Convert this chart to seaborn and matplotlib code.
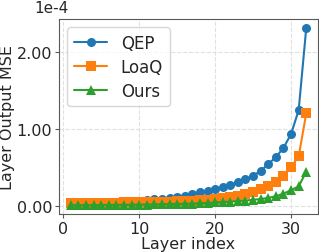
import numpy as np
import pandas as pd
import seaborn as sns
import matplotlib
matplotlib.use("Agg")
import matplotlib.pyplot as plt
from matplotlib.ticker import FormatStrFormatter

# layer-wise output MSE, in units of 1e-4
layers = list(range(1, 33))
qep = [0.03, 0.03, 0.035, 0.035, 0.04, 0.04, 0.045, 0.05, 0.055, 0.06,
       0.07, 0.08, 0.09, 0.10, 0.115, 0.13, 0.15, 0.17, 0.19, 0.21,
       0.24, 0.27, 0.30, 0.34, 0.39, 0.45, 0.54, 0.63, 0.75, 0.93,
       1.24, 2.31]
loaq = [0.03, 0.03, 0.03, 0.03, 0.035, 0.035, 0.035, 0.04, 0.04, 0.04,
        0.045, 0.045, 0.05, 0.05, 0.055, 0.06, 0.065, 0.07, 0.075, 0.085,
        0.10, 0.115, 0.13, 0.155, 0.18, 0.21, 0.25, 0.30, 0.38, 0.50,
        0.64, 1.20]
ours = [0.005, 0.005, 0.005, 0.006, 0.007, 0.008, 0.009, 0.01, 0.011, 0.012,
        0.013, 0.015, 0.017, 0.019, 0.021, 0.023, 0.026, 0.03, 0.034, 0.04,
        0.045, 0.05, 0.058, 0.065, 0.075, 0.085, 0.10, 0.12, 0.155, 0.20,
        0.25, 0.44]
methods = ["QEP", "LoaQ", "Ours"]

df = pd.DataFrame({
    "layer": layers * 3,
    "mse": qep + loaq + ours,
    "method": [m for m in methods for _ in layers],
})

sns.set_style("whitegrid", {"grid.linestyle": "--", "grid.color": "0.88",
                            "axes.edgecolor": "0.35"})
plt.rcParams["font.family"] = ["DejaVu Sans"]

fig, ax = plt.subplots(figsize=(3.19, 2.53), dpi=100)
sns.lineplot(data=df, x="layer", y="mse", hue="method", style="method",
             markers=["o", "s", "^"], dashes=False, markersize=6.5,
             markeredgewidth=0, linewidth=1.5, palette="tab10", ax=ax)

ax.set_xticks([0, 10, 20, 30])
ax.set_yticks([0, 1, 2])
ax.yaxis.set_major_formatter(FormatStrFormatter("%.2f"))
ax.tick_params(labelsize=11.5, length=3, pad=2, left=True, bottom=True, color="0.35")
ax.set_xlabel("Layer index", fontsize=11.5, labelpad=0)
ax.set_ylabel("Layer Output MSE", fontsize=11.5, labelpad=1)
ax.text(-0.03, 1.035, "1e-4", transform=ax.transAxes, ha="center",
        va="baseline", fontsize=11)

leg = ax.legend(loc="upper left", fontsize=12, handlelength=2.0,
                labelspacing=0.35, borderaxespad=0.5, frameon=True)

fig.subplots_adjust(left=0.185, right=0.997, bottom=0.15, top=0.921)
fig.savefig("out.png", dpi=100)
